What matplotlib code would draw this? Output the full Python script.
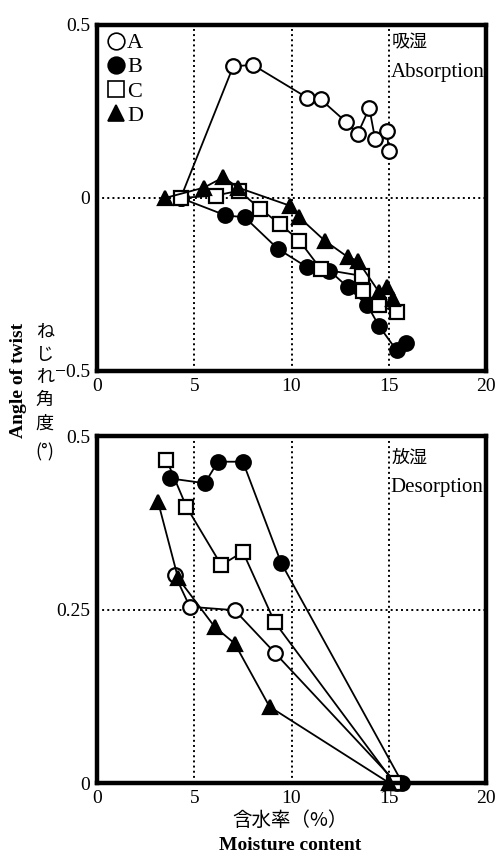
import matplotlib
matplotlib.use("Agg")
import matplotlib.pyplot as plt
from matplotlib.lines import Line2D

# absorption (top panel): moisture content (%) vs angle of twist
abs_a_x = [4.3, 7.0, 8.0, 10.8, 11.5, 12.8, 13.4, 14.0, 14.3, 14.9, 15.0]
abs_a_y = [0.0, 0.38, 0.385, 0.29, 0.285, 0.22, 0.185, 0.26, 0.17, 0.195, 0.137]
abs_b_x = [4.3, 6.6, 7.6, 9.3, 10.8, 11.95, 12.9, 13.9, 14.5, 15.4, 15.9]
abs_b_y = [0.0, -0.05, -0.056, -0.147, -0.2, -0.21, -0.258, -0.31, -0.37, -0.44, -0.42]
abs_c_x = [4.3, 6.1, 7.3, 8.4, 9.4, 10.4, 11.5, 13.6, 13.7, 14.5, 15.4]
abs_c_y = [0.0, 0.007, 0.021, -0.032, -0.075, -0.123, -0.205, -0.225, -0.268, -0.31, -0.33]
abs_d_x = [3.5, 5.5, 6.5, 7.25, 9.9, 10.4, 11.7, 12.9, 13.4, 14.5, 14.9, 15.2]
abs_d_y = [0.0, 0.03, 0.06, 0.03, -0.022, -0.056, -0.123, -0.171, -0.181, -0.272, -0.258, -0.292]

# desorption (bottom panel)
des_a_x = [4.0, 4.77, 7.08, 9.13, 15.4]
des_a_y = [0.30, 0.254, 0.249, 0.188, 0.0]
des_b_x = [3.74, 5.54, 6.22, 7.5, 9.47, 15.7]
des_b_y = [0.439, 0.432, 0.463, 0.463, 0.317, 0.0]
des_c_x = [3.57, 4.6, 6.39, 7.5, 9.13, 15.28]
des_c_y = [0.466, 0.398, 0.314, 0.333, 0.232, 0.0]
des_d_x = [3.14, 4.17, 6.05, 7.08, 8.87, 15.03]
des_d_y = [0.405, 0.295, 0.225, 0.201, 0.11, 0.0]

x_ticks = [0, 5, 10, 15, 20]
x_ticklabels = ["0", "5", "10", "15", "20"]
top_yticks = [-0.5, 0, 0.5]
top_yticklabels = ["\u22120.5", "0", "0.5"]
bot_yticks = [0, 0.25, 0.5]
bot_yticklabels = ["0", "0.25", "0.5"]

names = ["A", "B", "C", "D"]
styles = {
    "A": dict(marker="o", mfc="white"),
    "B": dict(marker="o", mfc="black"),
    "C": dict(marker="s", mfc="white"),
    "D": dict(marker="^", mfc="black"),
}

SERIF = "Liberation Serif"
CJK = ["Noto Sans CJK JP", "DejaVu Sans"]


def draw(ax, series):
    for name, (xs, ys) in zip(names, series):
        st = styles[name]
        ms = 10.5 if st["marker"] != "s" else 9.5
        ax.plot(xs, ys, color="black", lw=1.3, marker=st["marker"], ms=ms,
                mfc=st["mfc"], mec="black", mew=1.6, clip_on=False, zorder=3)


def setup(ax, ylim, yticks, ylabels, hgrid):
    ax.set_xlim(0, 20)
    ax.set_ylim(*ylim)
    ax.set_xticks(x_ticks)
    ax.set_xticklabels(x_ticklabels, family=SERIF, fontsize=14)
    ax.set_yticks(yticks)
    ax.set_yticklabels(ylabels, family=SERIF, fontsize=14)
    ax.tick_params(length=0, pad=5)
    for x in [5, 10, 15]:
        ax.axvline(x, color="black", ls=":", lw=1.4, zorder=1)
    ax.axhline(hgrid, color="black", ls=":", lw=1.4, zorder=1)
    for s in ax.spines.values():
        s.set_linewidth(3.2)
        s.set_zorder(4)


fig = plt.figure(figsize=(5.04, 8.58), dpi=100)
ax1 = fig.add_axes([0.1925, 0.5676, 0.7718, 0.4033])
ax2 = fig.add_axes([0.1925, 0.0874, 0.7718, 0.4044])

draw(ax1, [(abs_a_x, abs_a_y), (abs_b_x, abs_b_y), (abs_c_x, abs_c_y), (abs_d_x, abs_d_y)])
setup(ax1, (-0.5, 0.5), top_yticks, top_yticklabels, 0)
draw(ax2, [(des_a_x, des_a_y), (des_b_x, des_b_y), (des_c_x, des_c_y), (des_d_x, des_d_y)])
setup(ax2, (0, 0.5), bot_yticks, bot_yticklabels, 0.25)

handles = [Line2D([], [], ls="none", marker=styles[n]["marker"], ms=12,
                  mfc=styles[n]["mfc"], mec="black", mew=1.2) for n in names]
leg = ax1.legend(handles, names, loc="upper left", frameon=False,
                 handletextpad=0.0, handlelength=1.0, labelspacing=0.16,
                 borderaxespad=0.05, borderpad=0.3,
                 prop={"family": SERIF, "size": 16})

ax1.text(0.757, 0.951, "吸湿", transform=ax1.transAxes, family=CJK,
         fontsize=13, va="center", ha="left")
ax1.text(0.755, 0.864, "Absorption", transform=ax1.transAxes, family=SERIF,
         fontsize=15, va="center", ha="left")
ax2.text(0.757, 0.937, "放湿", transform=ax2.transAxes, family=CJK,
         fontsize=13, va="center", ha="left")
ax2.text(0.755, 0.853, "Desorption", transform=ax2.transAxes, family=SERIF,
         fontsize=15, va="center", ha="left")

# y axis label shared by both panels
fig.text(0.036, 0.557, "Angle of twist", rotation=90, family=SERIF,
         fontweight="bold", fontsize=14, ha="center", va="center")
for ch, py in zip(["ね", "じ", "れ", "角", "度", "(°)"],
                  [332, 355, 377, 400, 424, 452]):
    fig.text(0.089, 1 - py / 858, ch, family=CJK, fontsize=13,
             ha="center", va="center")

fig.text(0.575, 0.044, "含水率（%）", family=CJK, fontsize=14,
         ha="center", va="center")
fig.text(0.575, 0.0145, "Moisture content", family=SERIF, fontweight="bold",
         fontsize=14, ha="center", va="center")

fig.savefig("out.png", dpi=100)
